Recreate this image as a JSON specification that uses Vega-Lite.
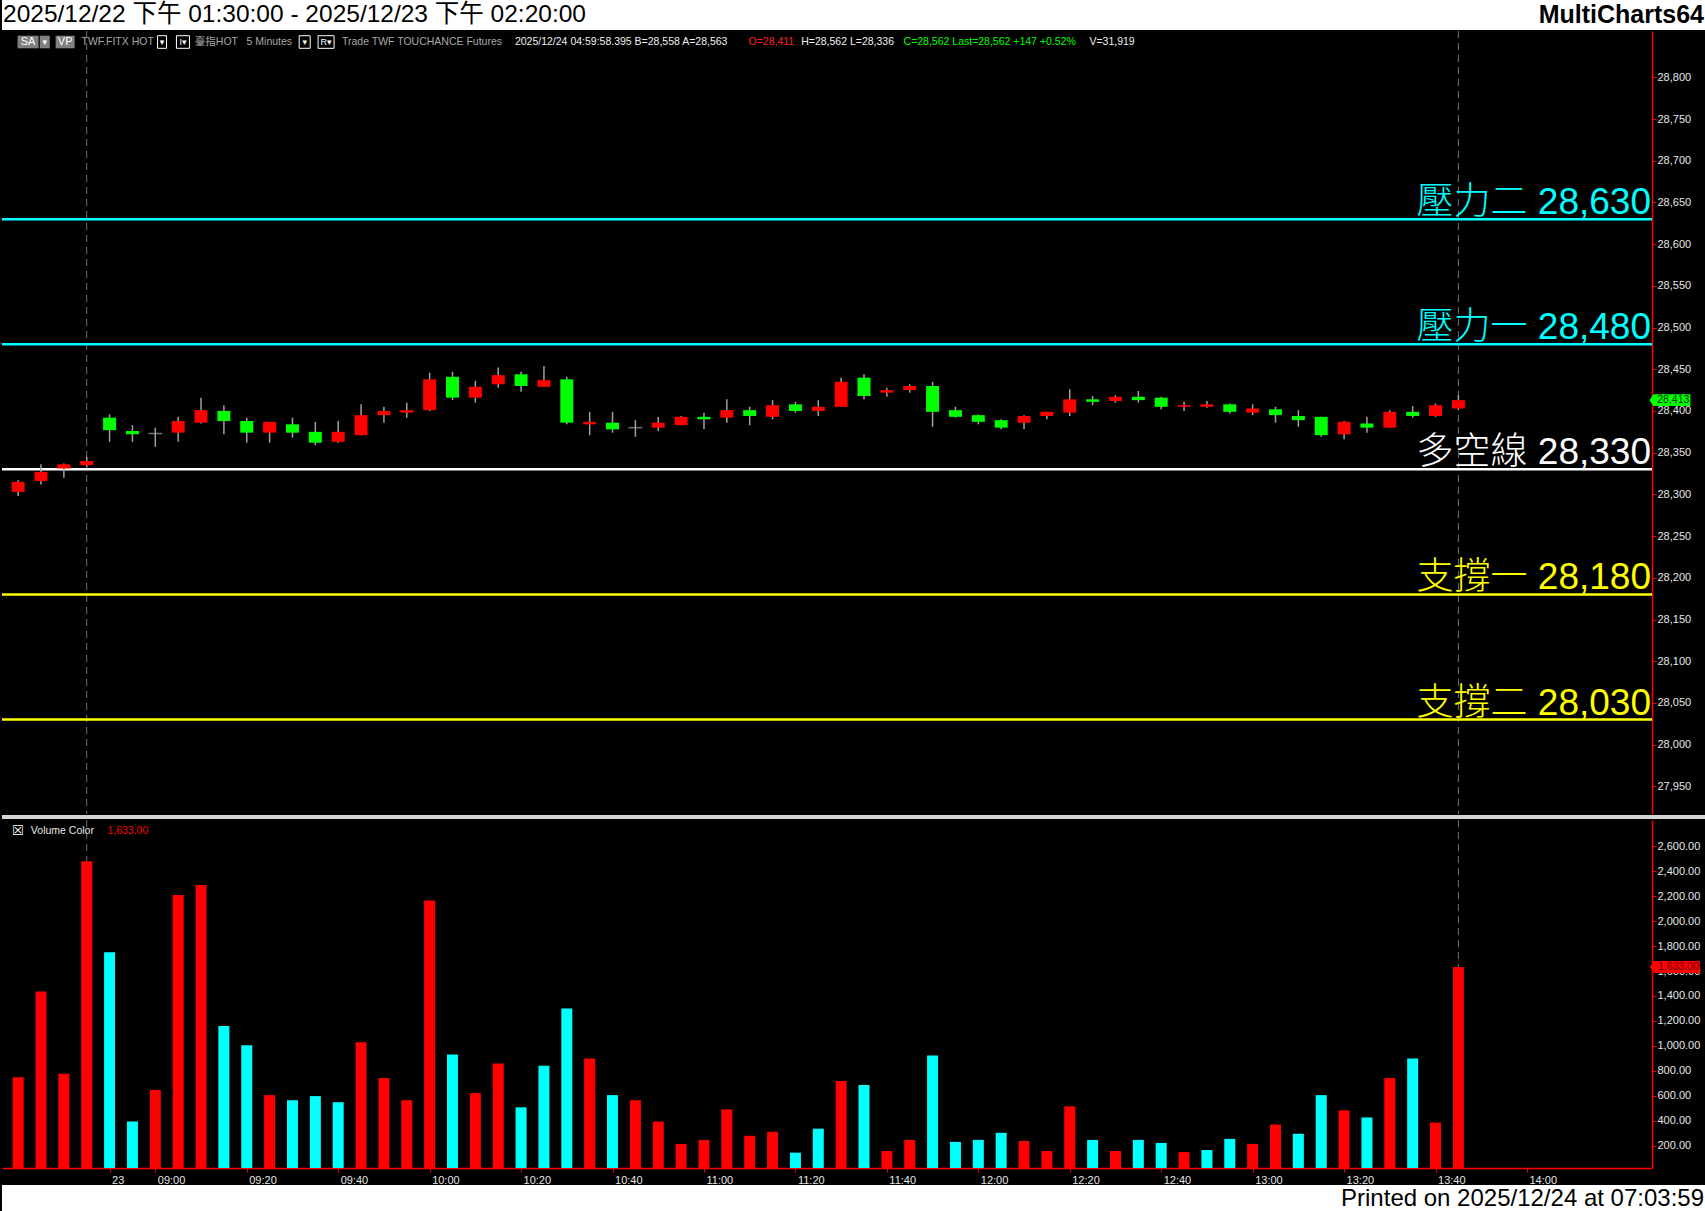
{
  "$schema": "https://vega.github.io/schema/vega-lite/v6.json",
  "padding": 0,
  "background": "#000000",
  "spacing": 0,
  "config": {"view": {"stroke": null}, "font": "Liberation Sans", "axis": {"grid": false, "domainColor": "#ff0000", "domainWidth": 1.5, "tickColor": "#ff0000", "tickSize": 4, "labelColor": "#e6e6e6", "labelFontSize": 11, "labelFont": "Liberation Sans", "labelOverlap": false}},
  "resolve": {"scale": {"x": "independent", "y": "independent", "color": "independent"}},
  "datasets": {
    "bars": [
      {"i":1,"o":28303,"h":28317,"l":28298,"c":28315,"v":750,"vd":"u"},
      {"i":2,"o":28316,"h":28336,"l":28312,"c":28327,"v":1437,"vd":"u"},
      {"i":3,"o":28331,"h":28337,"l":28320,"c":28336,"v":777,"vd":"u"},
      {"i":4,"o":28335,"h":28345,"l":28333,"c":28340,"v":2480,"vd":"u"},
      {"i":5,"o":28392,"h":28396,"l":28363,"c":28377,"v":1750,"vd":"d"},
      {"i":6,"o":28376,"h":28383,"l":28363,"c":28372,"v":394,"vd":"d"},
      {"i":7,"o":28373,"h":28380,"l":28357,"c":28373,"v":647,"vd":"u"},
      {"i":8,"o":28374,"h":28393,"l":28363,"c":28388,"v":2210,"vd":"u"},
      {"i":9,"o":28386,"h":28416,"l":28385,"c":28401,"v":2290,"vd":"u"},
      {"i":10,"o":28400,"h":28407,"l":28372,"c":28388,"v":1160,"vd":"d"},
      {"i":11,"o":28388,"h":28392,"l":28362,"c":28374,"v":1005,"vd":"d"},
      {"i":12,"o":28374,"h":28387,"l":28362,"c":28387,"v":606,"vd":"u"},
      {"i":13,"o":28384,"h":28392,"l":28368,"c":28374,"v":565,"vd":"d"},
      {"i":14,"o":28375,"h":28387,"l":28359,"c":28362,"v":598,"vd":"d"},
      {"i":15,"o":28363,"h":28388,"l":28362,"c":28375,"v":549,"vd":"d"},
      {"i":16,"o":28371,"h":28408,"l":28371,"c":28395,"v":1030,"vd":"u"},
      {"i":17,"o":28395,"h":28405,"l":28386,"c":28400,"v":744,"vd":"u"},
      {"i":18,"o":28398,"h":28410,"l":28392,"c":28401,"v":565,"vd":"u"},
      {"i":19,"o":28401,"h":28446,"l":28400,"c":28438,"v":2165,"vd":"u"},
      {"i":20,"o":28441,"h":28447,"l":28413,"c":28416,"v":932,"vd":"d"},
      {"i":21,"o":28416,"h":28436,"l":28410,"c":28429,"v":622,"vd":"u"},
      {"i":22,"o":28432,"h":28452,"l":28428,"c":28443,"v":859,"vd":"u"},
      {"i":23,"o":28444,"h":28447,"l":28423,"c":28430,"v":508,"vd":"d"},
      {"i":24,"o":28429,"h":28454,"l":28429,"c":28437,"v":842,"vd":"d"},
      {"i":25,"o":28438,"h":28441,"l":28384,"c":28386,"v":1299,"vd":"d"},
      {"i":26,"o":28384,"h":28399,"l":28371,"c":28387,"v":899,"vd":"u"},
      {"i":27,"o":28386,"h":28399,"l":28374,"c":28378,"v":606,"vd":"d"},
      {"i":28,"o":28380,"h":28389,"l":28369,"c":28380,"v":565,"vd":"u"},
      {"i":29,"o":28380,"h":28393,"l":28376,"c":28386,"v":394,"vd":"u"},
      {"i":30,"o":28383,"h":28394,"l":28383,"c":28393,"v":215,"vd":"u"},
      {"i":31,"o":28393,"h":28398,"l":28378,"c":28390,"v":247,"vd":"u"},
      {"i":32,"o":28392,"h":28414,"l":28386,"c":28401,"v":492,"vd":"u"},
      {"i":33,"o":28401,"h":28405,"l":28383,"c":28394,"v":280,"vd":"u"},
      {"i":34,"o":28393,"h":28413,"l":28390,"c":28407,"v":312,"vd":"u"},
      {"i":35,"o":28408,"h":28411,"l":28398,"c":28400,"v":145,"vd":"d"},
      {"i":36,"o":28400,"h":28413,"l":28394,"c":28405,"v":337,"vd":"d"},
      {"i":37,"o":28405,"h":28440,"l":28405,"c":28435,"v":720,"vd":"u"},
      {"i":38,"o":28440,"h":28444,"l":28414,"c":28418,"v":687,"vd":"d"},
      {"i":39,"o":28422,"h":28428,"l":28417,"c":28425,"v":158,"vd":"u"},
      {"i":40,"o":28425,"h":28432,"l":28422,"c":28430,"v":247,"vd":"u"},
      {"i":41,"o":28430,"h":28435,"l":28381,"c":28399,"v":924,"vd":"d"},
      {"i":42,"o":28401,"h":28405,"l":28392,"c":28393,"v":231,"vd":"d"},
      {"i":43,"o":28395,"h":28396,"l":28384,"c":28387,"v":247,"vd":"d"},
      {"i":44,"o":28389,"h":28390,"l":28378,"c":28380,"v":304,"vd":"d"},
      {"i":45,"o":28386,"h":28395,"l":28378,"c":28394,"v":239,"vd":"u"},
      {"i":46,"o":28394,"h":28399,"l":28390,"c":28399,"v":158,"vd":"u"},
      {"i":47,"o":28398,"h":28426,"l":28394,"c":28414,"v":516,"vd":"u"},
      {"i":48,"o":28414,"h":28418,"l":28407,"c":28411,"v":247,"vd":"d"},
      {"i":49,"o":28412,"h":28419,"l":28410,"c":28417,"v":158,"vd":"u"},
      {"i":50,"o":28417,"h":28424,"l":28410,"c":28413,"v":247,"vd":"d"},
      {"i":51,"o":28416,"h":28417,"l":28402,"c":28405,"v":223,"vd":"d"},
      {"i":52,"o":28405,"h":28411,"l":28400,"c":28407,"v":149,"vd":"u"},
      {"i":53,"o":28405,"h":28412,"l":28404,"c":28408,"v":166,"vd":"d"},
      {"i":54,"o":28408,"h":28409,"l":28397,"c":28399,"v":255,"vd":"d"},
      {"i":55,"o":28398,"h":28408,"l":28395,"c":28403,"v":215,"vd":"u"},
      {"i":56,"o":28402,"h":28405,"l":28386,"c":28395,"v":370,"vd":"u"},
      {"i":57,"o":28394,"h":28401,"l":28381,"c":28389,"v":296,"vd":"d"},
      {"i":58,"o":28393,"h":28393,"l":28369,"c":28371,"v":606,"vd":"d"},
      {"i":59,"o":28372,"h":28388,"l":28366,"c":28387,"v":484,"vd":"u"},
      {"i":60,"o":28385,"h":28393,"l":28374,"c":28380,"v":427,"vd":"d"},
      {"i":61,"o":28380,"h":28401,"l":28380,"c":28399,"v":744,"vd":"u"},
      {"i":62,"o":28399,"h":28406,"l":28392,"c":28394,"v":899,"vd":"d"},
      {"i":63,"o":28394,"h":28409,"l":28393,"c":28407,"v":386,"vd":"u"},
      {"i":64,"o":28403,"h":28419,"l":28401,"c":28413,"v":1633,"vd":"u"}
    ],
    "levels": [
      {"name":"壓力二","level":28630,"label":"壓力二 28,630"},
      {"name":"壓力一","level":28480,"label":"壓力一 28,480"},
      {"name":"多空線","level":28330,"label":"多空線 28,330"},
      {"name":"支撐一","level":28180,"label":"支撐一 28,180"},
      {"name":"支撐二","level":28030,"label":"支撐二 28,030"}
    ]
  },
  "vconcat": [
    {
      "width": 1705, "height": 30,
      "view": {"fill": "#ffffff", "stroke": null},
      "data": {"values": [{}]},
      "layer": [
        {"mark": {"type": "text", "text": "2025/12/22 下午 01:30:00 - 2025/12/23 下午 02:20:00", "align": "left", "baseline": "middle", "dx": 1, "fontSize": 24.5, "color": "#000000", "font": "Liberation Sans, Noto Sans CJK TC"},
         "encoding": {"x": {"datum": 0, "type": "quantitative", "scale": {"domain": [0, 1]}, "axis": null}}},
        {"mark": {"type": "text", "text": "MultiCharts64", "align": "right", "baseline": "middle", "dx": -3, "fontSize": 25, "fontWeight": "bold", "color": "#000000", "font": "Liberation Sans"},
         "encoding": {"x": {"datum": 1, "type": "quantitative", "scale": {"domain": [0, 1]}, "axis": null}}}
      ]
    },
    {
      "width": 1650, "height": 783,
      "layer": [
        {"data": {"values": [{}]}, "mark": {"type": "rule", "color": "#6e6e6e", "strokeDash": [7, 5], "strokeWidth": 1},
         "encoding": {"x": {"datum": 4, "type": "quantitative", "scale": {"domain": [0.513, 72.25], "nice": false, "zero": false}, "axis": null}}},
        {"data": {"values": [{}]}, "mark": {"type": "rule", "color": "#6e6e6e", "strokeDash": [7, 5], "strokeWidth": 1},
         "encoding": {"x": {"datum": 64, "type": "quantitative", "scale": {"domain": [0.513, 72.25], "nice": false, "zero": false}, "axis": null}}},
        {"data": {"name": "levels"}, "mark": {"type": "rule", "strokeWidth": 2.5},
         "encoding": {
           "y": {"field": "level", "type": "quantitative", "title": null, "scale": {"domain": [27916.8, 28855.6], "nice": false, "zero": false}},
           "color": {"field": "name", "type": "nominal", "scale": {"domain": ["壓力二","壓力一","多空線","支撐一","支撐二"], "range": ["#00ffff","#00ffff","#ffffff","#ffff00","#ffff00"]}, "legend": null}}},
        {"data": {"name": "levels"}, "mark": {"type": "text", "align": "right", "baseline": "alphabetic", "dy": -5, "dx": -1, "fontSize": 37, "fontWeight": 300, "font": "Liberation Sans, Noto Sans CJK TC"},
         "encoding": {
           "x": {"value": "width"},
           "y": {"field": "level", "type": "quantitative", "title": null, "scale": {"domain": [27916.8, 28855.6], "nice": false, "zero": false}},
           "text": {"field": "label"},
           "color": {"field": "name", "type": "nominal", "scale": {"domain": ["壓力二","壓力一","多空線","支撐一","支撐二"], "range": ["#00ffff","#00ffff","#ffffff","#ffff00","#ffff00"]}, "legend": null}}},
        {"data": {"name": "bars"}, "mark": {"type": "rule", "color": "#a0a0a0", "strokeWidth": 1.5},
         "encoding": {
           "x": {"field": "i", "type": "quantitative", "scale": {"domain": [0.513, 72.25], "nice": false, "zero": false}, "axis": null},
           "y": {"field": "l", "type": "quantitative", "title": null, "scale": {"domain": [27916.8, 28855.6], "nice": false, "zero": false},
                 "axis": {"orient": "right", "values": [27950,28000,28050,28100,28150,28200,28250,28300,28350,28400,28450,28500,28550,28600,28650,28700,28750,28800], "format": ",d", "labelPadding": 1, "labelOverlap": false}},
           "y2": {"field": "h"}}},
        {"data": {"name": "bars"}, "transform": [{"filter": "datum.o != datum.c"}], "mark": {"type": "bar", "width": 13},
         "encoding": {
           "x": {"field": "i", "type": "quantitative", "scale": {"domain": [0.513, 72.25], "nice": false, "zero": false}, "axis": null},
           "y": {"field": "o", "type": "quantitative", "title": null, "scale": {"domain": [27916.8, 28855.6], "nice": false, "zero": false}},
           "y2": {"field": "c"},
           "color": {"condition": {"test": "datum.c > datum.o", "value": "#ff0000"}, "value": "#00ff00"}}},
        {"data": {"name": "bars"}, "transform": [{"filter": "datum.o == datum.c"}], "mark": {"type": "tick", "orient": "horizontal", "size": 14, "thickness": 1.5, "color": "#a0a0a0"},
         "encoding": {
           "x": {"field": "i", "type": "quantitative", "scale": {"domain": [0.513, 72.25], "nice": false, "zero": false}, "axis": null},
           "y": {"field": "o", "type": "quantitative", "title": null, "scale": {"domain": [27916.8, 28855.6], "nice": false, "zero": false}}}},
        {"data": {"values": [{}]}, "mark": {"type": "point", "shape": "M-1,-0.6L1,-0.6L1,0.6L-1,0.6Z", "filled": true, "size": 441, "color": "#808080", "opacity": 1},
         "encoding": {"x": {"datum": 1.435, "type": "quantitative", "axis": null}, "y": {"datum": 28842.4, "type": "quantitative", "title": null}}},
        {"data": {"values": [{}]}, "mark": {"type": "point", "shape": "M-1,-1.26L1,-1.26L1,1.26L-1,1.26Z", "filled": true, "size": 100, "color": "#808080", "opacity": 1},
         "encoding": {"x": {"datum": 2.165, "type": "quantitative", "axis": null}, "y": {"datum": 28842.4, "type": "quantitative", "title": null}}},
        {"data": {"values": [{}]}, "mark": {"type": "point", "shape": "M-1,-0.66L1,-0.66L1,0.66L-1,0.66Z", "filled": true, "size": 361, "color": "#808080", "opacity": 1},
         "encoding": {"x": {"datum": 3.056, "type": "quantitative", "axis": null}, "y": {"datum": 28842.4, "type": "quantitative", "title": null}}},
        {"data": {"values": [{}]}, "mark": {"type": "point", "shape": "M-1,-1.4L1,-1.4L1,1.4L-1,1.4Z", "filled": false, "size": 81, "color": "#ffffff", "strokeWidth": 1, "opacity": 1},
         "encoding": {"x": {"datum": 7.295, "type": "quantitative", "axis": null}, "y": {"datum": 28842.4, "type": "quantitative", "title": null}}},
        {"data": {"values": [{}]}, "mark": {"type": "point", "shape": "M-1,-0.97L1,-0.97L1,0.97L-1,0.97Z", "filled": false, "size": 169, "color": "#ffffff", "strokeWidth": 1, "opacity": 1},
         "encoding": {"x": {"datum": 8.209, "type": "quantitative", "axis": null}, "y": {"datum": 28842.4, "type": "quantitative", "title": null}}},
        {"data": {"values": [{}]}, "mark": {"type": "point", "shape": "M-1,-1.145L1,-1.145L1,1.145L-1,1.145Z", "filled": false, "size": 121, "color": "#ffffff", "strokeWidth": 1, "opacity": 1},
         "encoding": {"x": {"datum": 13.535, "type": "quantitative", "axis": null}, "y": {"datum": 28842.4, "type": "quantitative", "title": null}}},
        {"data": {"values": [{}]}, "mark": {"type": "point", "shape": "M-1,-0.79L1,-0.79L1,0.79L-1,0.79Z", "filled": false, "size": 256, "color": "#ffffff", "strokeWidth": 1, "opacity": 1},
         "encoding": {"x": {"datum": 14.47, "type": "quantitative", "axis": null}, "y": {"datum": 28842.4, "type": "quantitative", "title": null}}},
        {"data": {"values": [{}]}, "mark": {"type": "text", "text": "SA", "align": "center", "baseline": "middle", "fontSize": 11, "color": "#ffffff"},
         "encoding": {"x": {"datum": 1.435, "type": "quantitative", "axis": null}, "y": {"datum": 28842.4, "type": "quantitative", "title": null}}},
        {"data": {"values": [{}]}, "mark": {"type": "text", "text": "▾", "align": "center", "baseline": "middle", "fontSize": 9, "color": "#ffffff", "font": "DejaVu Sans"},
         "encoding": {"x": {"datum": 2.165, "type": "quantitative", "axis": null}, "y": {"datum": 28842.4, "type": "quantitative", "title": null}}},
        {"data": {"values": [{}]}, "mark": {"type": "text", "text": "VP", "align": "center", "baseline": "middle", "fontSize": 11, "color": "#ffffff"},
         "encoding": {"x": {"datum": 3.056, "type": "quantitative", "axis": null}, "y": {"datum": 28842.4, "type": "quantitative", "title": null}}},
        {"data": {"values": [{}]}, "mark": {"type": "text", "text": "TWF.FITX HOT", "align": "left", "baseline": "middle", "fontSize": 10.5, "color": "#a8a8a8"},
         "encoding": {"x": {"datum": 3.774, "type": "quantitative", "axis": null}, "y": {"datum": 28842.4, "type": "quantitative", "title": null}}},
        {"data": {"values": [{}]}, "mark": {"type": "text", "text": "▾", "align": "center", "baseline": "middle", "fontSize": 9, "color": "#ffffff", "font": "DejaVu Sans"},
         "encoding": {"x": {"datum": 7.295, "type": "quantitative", "axis": null}, "y": {"datum": 28842.4, "type": "quantitative", "title": null}}},
        {"data": {"values": [{}]}, "mark": {"type": "text", "text": "I▾", "align": "center", "baseline": "middle", "fontSize": 9, "color": "#ffffff", "font": "Liberation Sans, DejaVu Sans"},
         "encoding": {"x": {"datum": 8.209, "type": "quantitative", "axis": null}, "y": {"datum": 28842.4, "type": "quantitative", "title": null}}},
        {"data": {"values": [{}]}, "mark": {"type": "text", "text": "臺指HOT", "align": "left", "baseline": "middle", "fontSize": 10.5, "color": "#a8a8a8", "font": "Liberation Sans, Noto Sans CJK TC"},
         "encoding": {"x": {"datum": 8.73, "type": "quantitative", "axis": null}, "y": {"datum": 28842.4, "type": "quantitative", "title": null}}},
        {"data": {"values": [{}]}, "mark": {"type": "text", "text": "5 Minutes", "align": "left", "baseline": "middle", "fontSize": 10.5, "color": "#a8a8a8"},
         "encoding": {"x": {"datum": 10.991, "type": "quantitative", "axis": null}, "y": {"datum": 28842.4, "type": "quantitative", "title": null}}},
        {"data": {"values": [{}]}, "mark": {"type": "text", "text": "▾", "align": "center", "baseline": "middle", "fontSize": 9, "color": "#ffffff", "font": "DejaVu Sans"},
         "encoding": {"x": {"datum": 13.535, "type": "quantitative", "axis": null}, "y": {"datum": 28842.4, "type": "quantitative", "title": null}}},
        {"data": {"values": [{}]}, "mark": {"type": "text", "text": "R▾", "align": "center", "baseline": "middle", "fontSize": 9, "color": "#ffffff", "font": "Liberation Sans, DejaVu Sans"},
         "encoding": {"x": {"datum": 14.47, "type": "quantitative", "axis": null}, "y": {"datum": 28842.4, "type": "quantitative", "title": null}}},
        {"data": {"values": [{}]}, "mark": {"type": "text", "text": "Trade  TWF  TOUCHANCE  Futures", "align": "left", "baseline": "middle", "fontSize": 10.5, "color": "#a8a8a8"},
         "encoding": {"x": {"datum": 15.165, "type": "quantitative", "axis": null}, "y": {"datum": 28842.4, "type": "quantitative", "title": null}}},
        {"data": {"values": [{}]}, "mark": {"type": "text", "text": "2025/12/24  04:59:58.395  B=28,558  A=28,563", "align": "left", "baseline": "middle", "fontSize": 10.5, "color": "#f0f0f0"},
         "encoding": {"x": {"datum": 22.73, "type": "quantitative", "axis": null}, "y": {"datum": 28842.4, "type": "quantitative", "title": null}}},
        {"data": {"values": [{}]}, "mark": {"type": "text", "text": "O=28,411", "align": "left", "baseline": "middle", "fontSize": 10.5, "color": "#ff2020"},
         "encoding": {"x": {"datum": 32.948, "type": "quantitative", "axis": null}, "y": {"datum": 28842.4, "type": "quantitative", "title": null}}},
        {"data": {"values": [{}]}, "mark": {"type": "text", "text": "H=28,562  L=28,336", "align": "left", "baseline": "middle", "fontSize": 10.5, "color": "#f0f0f0"},
         "encoding": {"x": {"datum": 35.252, "type": "quantitative", "axis": null}, "y": {"datum": 28842.4, "type": "quantitative", "title": null}}},
        {"data": {"values": [{}]}, "mark": {"type": "text", "text": "C=28,562  Last=28,562  +147  +0.52%", "align": "left", "baseline": "middle", "fontSize": 10.5, "color": "#00ff00"},
         "encoding": {"x": {"datum": 39.73, "type": "quantitative", "axis": null}, "y": {"datum": 28842.4, "type": "quantitative", "title": null}}},
        {"data": {"values": [{}]}, "mark": {"type": "text", "text": "V=31,919", "align": "left", "baseline": "middle", "fontSize": 10.5, "color": "#f0f0f0"},
         "encoding": {"x": {"datum": 47.861, "type": "quantitative", "axis": null}, "y": {"datum": 28842.4, "type": "quantitative", "title": null}}},
        {"data": {"values": [{}]}, "mark": {"type": "point", "shape": "M-1,0L-0.8,-0.29L1,-0.29L1,0.29L-0.8,0.29Z", "filled": true, "size": 1681, "color": "#00ff00", "opacity": 1},
         "encoding": {"x": {"datum": 73.25, "type": "quantitative", "axis": null}, "y": {"datum": 28413, "type": "quantitative", "title": null}}},
        {"data": {"values": [{}]}, "mark": {"type": "text", "text": "28,413", "align": "center", "baseline": "middle", "fontSize": 10.5, "color": "#003300"},
         "encoding": {"x": {"datum": 73.4, "type": "quantitative", "axis": null}, "y": {"datum": 28413, "type": "quantitative", "title": null}}}
      ]
    },
    {
      "width": 1705, "height": 4,
      "view": {"fill": "#d4d4d4", "stroke": null},
      "data": {"values": [{}]},
      "mark": {"type": "text", "text": " ", "fontSize": 0}
    },
    {
      "width": 1650, "height": 348,
      "layer": [
        {"data": {"values": [{}]}, "mark": {"type": "rule", "color": "#6e6e6e", "strokeDash": [7, 5], "strokeWidth": 1},
         "encoding": {"x": {"datum": 4, "type": "quantitative", "title": null, "scale": {"domain": [0.513, 72.25], "nice": false, "zero": false}}}},
        {"data": {"values": [{}]}, "mark": {"type": "rule", "color": "#6e6e6e", "strokeDash": [7, 5], "strokeWidth": 1},
         "encoding": {"x": {"datum": 64, "type": "quantitative", "title": null, "scale": {"domain": [0.513, 72.25], "nice": false, "zero": false}}}},
        {"data": {"name": "bars"}, "mark": {"type": "bar", "width": 11, "clip": true},
         "encoding": {
           "x": {"field": "i", "type": "quantitative", "title": null, "scale": {"domain": [0.513, 72.25], "nice": false, "zero": false},
                 "axis": {"orient": "bottom", "values": [5,7,11,15,19,23,27,31,35,39,43,47,51,55,59,63,67], "labelExpr": "datum.value == 5 ? '23' : timeFormat(datetime(2025, 11, 23, 8, 50 + (datum.value - 5) * 5), '%H:%M')", "labelAlign": "left", "labelOffset": 2, "labelPadding": 2, "labelBaseline": "top", "labelFlush": false, "labelBound": false, "labelOverlap": false}},
           "y": {"field": "v", "type": "quantitative", "title": null, "scale": {"domain": [22, 2810], "nice": false, "zero": false},
                 "axis": {"orient": "right", "values": [200,400,600,800,1000,1200,1400,1600,1800,2000,2200,2400,2600], "format": ",.2f", "labelPadding": 1, "labelOverlap": false}},
           "color": {"condition": {"test": "datum.vd == 'u'", "value": "#ff0000"}, "value": "#00ffff"}}},
        {"data": {"values": [{}]}, "mark": {"type": "text", "text": "☒", "align": "left", "baseline": "middle", "fontSize": 13, "color": "#ffffff", "font": "DejaVu Sans"},
         "encoding": {"x": {"datum": 0.73, "type": "quantitative", "title": null}, "y": {"datum": 2722, "type": "quantitative", "title": null, "axis": {"orient": "right", "values": [200,400,600,800,1000,1200,1400,1600,1800,2000,2200,2400,2600], "format": ",.2f", "labelPadding": 1, "labelOverlap": false}}}},
        {"data": {"values": [{}]}, "mark": {"type": "text", "text": "Volume Color", "align": "left", "baseline": "middle", "fontSize": 10.5, "color": "#e6e6e6"},
         "encoding": {"x": {"datum": 1.557, "type": "quantitative", "title": null}, "y": {"datum": 2722, "type": "quantitative", "title": null, "axis": {"orient": "right", "values": [200,400,600,800,1000,1200,1400,1600,1800,2000,2200,2400,2600], "format": ",.2f", "labelPadding": 1, "labelOverlap": false}}}},
        {"data": {"values": [{}]}, "mark": {"type": "text", "text": "1,633.00", "align": "left", "baseline": "middle", "fontSize": 10.5, "color": "#ff0000"},
         "encoding": {"x": {"datum": 4.904, "type": "quantitative", "title": null}, "y": {"datum": 2722, "type": "quantitative", "title": null, "axis": {"orient": "right", "values": [200,400,600,800,1000,1200,1400,1600,1800,2000,2200,2400,2600], "format": ",.2f", "labelPadding": 1, "labelOverlap": false}}}},
        {"data": {"name": "bars"}, "transform": [{"filter": "datum.i == 64"}], "mark": {"type": "point", "shape": "M-1,0L-0.84,-0.24L1,-0.24L1,0.24L-0.84,0.24Z", "filled": true, "size": 2500, "color": "#ff0000", "opacity": 1},
         "encoding": {"x": {"datum": 73.47, "type": "quantitative", "title": null}, "y": {"field": "v", "type": "quantitative", "title": null, "axis": {"orient": "right", "values": [200,400,600,800,1000,1200,1400,1600,1800,2000,2200,2400,2600], "format": ",.2f", "labelPadding": 1, "labelOverlap": false}}}},
        {"data": {"name": "bars"}, "transform": [{"filter": "datum.i == 64"}], "mark": {"type": "text", "align": "center", "baseline": "middle", "fontSize": 10.5, "color": "#600000"},
         "encoding": {"x": {"datum": 73.62, "type": "quantitative", "title": null}, "y": {"field": "v", "type": "quantitative", "title": null, "axis": {"orient": "right", "values": [200,400,600,800,1000,1200,1400,1600,1800,2000,2200,2400,2600], "format": ",.2f", "labelPadding": 1, "labelOverlap": false}}, "text": {"field": "v", "type": "quantitative", "format": ",.2f"}}}
      ]
    },
    {
      "width": 1705, "height": 27,
      "view": {"fill": "#ffffff", "stroke": null},
      "data": {"values": [{}]},
      "mark": {"type": "text", "text": "Printed on 2025/12/24 at 07:03:59", "align": "right", "baseline": "middle", "dx": -3, "fontSize": 24, "color": "#000000", "font": "Liberation Sans"},
      "encoding": {"x": {"datum": 1, "type": "quantitative", "scale": {"domain": [0, 1]}, "axis": null}}
    }
  ]
}
